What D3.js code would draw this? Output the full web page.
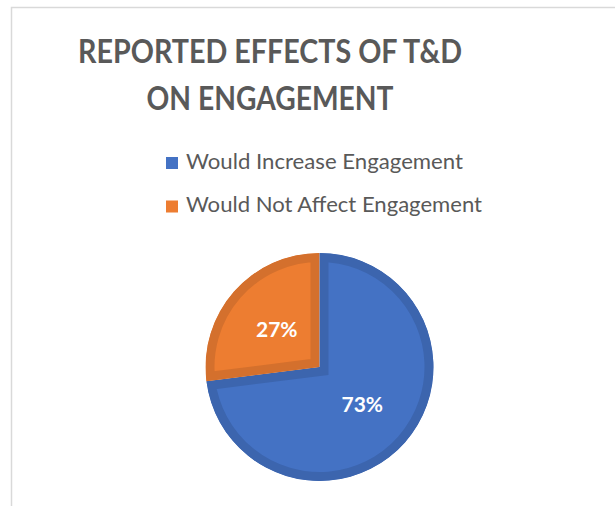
<!DOCTYPE html>
<html>
<head>
<meta charset="utf-8">
<script src="https://cdn.jsdelivr.net/npm/d3@7"></script>
<style>
  html, body { margin: 0; padding: 0; background: #fff; }
  svg { display: block; }
</style>
</head>
<body>
<svg id="chart" width="615" height="506"></svg>
<script>
'use strict'

// chart data
const titleLines = ['REPORTED EFFECTS OF T&D', 'ON ENGAGEMENT']
const categories = ['Would Increase Engagement', 'Would Not Affect Engagement']
const shares = [73, 27]
const fillColors = ['#4472C4', '#ED7D31']
const edgeColors = ['#3C65AE', '#D4702D']

const svg = d3.select('#chart')
const font = 'Lato, "Open Sans", sans-serif'
const textGray = '#595959'

// chart area border (runs off the right and bottom of the picture)
svg.append('rect')
  .attr('x', 11.5).attr('y', 7.5)
  .attr('width', 700).attr('height', 600)
  .attr('fill', '#fff')
  .attr('stroke', '#d9d9d9')
  .attr('stroke-width', 1.5)

// title
const titleWidths = [384, 247]
svg.append('g').selectAll('text')
  .data(titleLines)
  .join('text')
  .attr('x', 270)
  .attr('y', (d, i) => 63 + i * 47)
  .attr('text-anchor', 'middle')
  .attr('font-family', font)
  .attr('font-weight', 700)
  .attr('font-size', 32)
  .attr('fill', textGray)
  .attr('textLength', (d, i) => titleWidths[i])
  .attr('lengthAdjust', 'spacingAndGlyphs')
  .text(d => d)

// legend
const legendWidths = [277, 296]
const legend = svg.append('g').selectAll('g')
  .data(categories)
  .join('g')
  .attr('transform', (d, i) => `translate(166, ${157 + i * 43.5})`)

legend.append('rect')
  .attr('width', 12).attr('height', 12)
  .attr('fill', (d, i) => fillColors[i])

legend.append('text')
  .attr('x', 20)
  .attr('y', 11.5)
  .attr('font-family', font)
  .attr('font-size', 21)
  .attr('fill', textGray)
  .attr('textLength', (d, i) => legendWidths[i])
  .attr('lengthAdjust', 'spacingAndGlyphs')
  .text(d => d)

// pie
const cx = 319.5
const cy = 367
const radius = 114
const edgeWidth = 9

const pie = d3.pie().sort(null).value(d => d)
const arcs = pie(shares)
const arcMaker = d3.arc().innerRadius(0).outerRadius(radius)
const labelArc = d3.arc().innerRadius(radius * 0.5).outerRadius(radius * 0.5)

const pieGroup = svg.append('g')
  .attr('transform', `translate(${cx},${cy})`)

const defs = svg.append('defs')
arcs.forEach((a, i) => {
  defs.append('clipPath')
    .attr('id', `slice-clip-${i}`)
    .append('path')
    .attr('d', arcMaker(a))
})

// slices get an inner darker edge: double-width stroke clipped to the slice
pieGroup.selectAll('path.slice')
  .data(arcs)
  .join('path')
  .attr('class', 'slice')
  .attr('d', arcMaker)
  .attr('fill', (d, i) => fillColors[i])
  .attr('stroke', (d, i) => edgeColors[i])
  .attr('stroke-width', edgeWidth * 2)
  .attr('stroke-linejoin', 'miter')
  .attr('clip-path', (d, i) => `url(#slice-clip-${i})`)

pieGroup.selectAll('text.pct')
  .data(arcs)
  .join('text')
  .attr('class', 'pct')
  .attr('transform', d => {
    const [x, y] = labelArc.centroid(d)
    return `translate(${x},${y})`
  })
  .attr('text-anchor', 'middle')
  .attr('dy', '0.36em')
  .attr('font-family', font)
  .attr('font-weight', 700)
  .attr('font-size', 21)
  .attr('fill', '#fff')
  .text(d => `${d.data}%`)
</script>
</body>
</html>
